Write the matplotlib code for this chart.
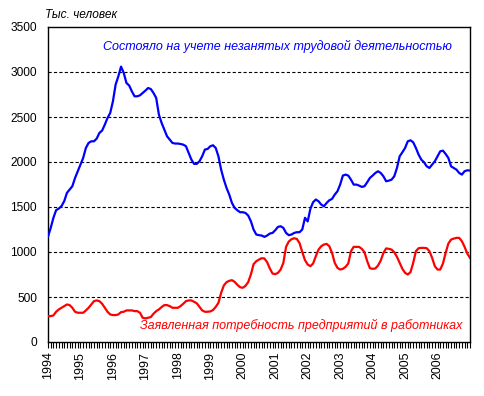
import matplotlib
matplotlib.use("Agg")
import matplotlib.pyplot as plt
import numpy as np

plt.rcParams['font.family'] = ['Liberation Sans', 'DejaVu Sans']
plt.rcParams['lines.scale_dashes'] = False

years = ["1994", "1995", "1996", "1997", "1998", "1999", "2000",
         "2001", "2002", "2003", "2004", "2005", "2006"]

# Monthly values from Jan 1994 (thousand people)
unemployed = [
    1170, 1268, 1380, 1465, 1483, 1510, 1565, 1657, 1694, 1731, 1823, 1897,
    1971, 2045, 2156, 2212, 2230, 2230, 2260, 2323, 2349, 2415, 2489, 2545,
    2674, 2860, 2952, 3060, 2989, 2878, 2850, 2785, 2730, 2730, 2741, 2767,
    2793, 2822, 2811, 2767, 2711, 2526, 2434, 2360, 2286, 2249, 2212, 2205,
    2205, 2200, 2193, 2175, 2100, 2027, 1979, 1979, 2008, 2064, 2138, 2145,
    2175, 2186, 2156, 2063, 1915, 1804, 1712, 1638, 1545, 1490, 1464, 1442,
    1442, 1434, 1405, 1342, 1249, 1194, 1187, 1183, 1168, 1183, 1205, 1212,
    1242, 1279, 1286, 1268, 1212, 1187, 1194, 1212, 1220, 1220, 1250, 1380,
    1340, 1480, 1553, 1583, 1564, 1527, 1508, 1545, 1575, 1590, 1638, 1675,
    1749, 1849, 1860, 1849, 1804, 1749, 1749, 1738, 1723, 1731, 1775, 1823,
    1849, 1878, 1897, 1878, 1841, 1786, 1793, 1804, 1841, 1934, 2063, 2108,
    2156, 2230, 2241, 2219, 2156, 2082, 2026, 1997, 1952, 1934, 1971, 2008,
    2063, 2119, 2126, 2089, 2045, 1952, 1934, 1915, 1878, 1860, 1897, 1908,
    1905,
]

vacancies = [
    288, 288, 295, 336, 362, 380, 399, 417, 410, 380, 336, 325,
    325, 325, 351, 380, 417, 454, 462, 454, 425, 380, 336, 306,
    299, 299, 306, 332, 336, 351, 351, 351, 343, 343, 325, 269,
    262, 269, 277, 314, 343, 362, 388, 410, 410, 399, 380, 380,
    380, 399, 425, 454, 462, 462, 447, 430, 390, 351, 336, 336,
    340, 355, 390, 435, 546, 628, 665, 680, 687, 668, 635, 609,
    602, 624, 665, 750, 865, 898, 916, 931, 928, 887, 817, 761,
    754, 768, 805, 879, 1057, 1116, 1142, 1153, 1145, 1098, 998, 909,
    861, 842, 872, 953, 1027, 1064, 1083, 1090, 1064, 990, 879, 824,
    805, 813, 835, 872, 1009, 1057, 1057, 1057, 1035, 998, 898, 820,
    813, 817, 850, 905, 990, 1040, 1035, 1027, 998, 946, 879, 813,
    768, 750, 776, 879, 1009, 1042, 1046, 1046, 1042, 1009, 935, 842,
    805, 805, 872, 990, 1094, 1138, 1149, 1157, 1157, 1120, 1057, 983,
    935,
]

label_blue = "Состояло на учете незанятых трудовой деятельностью"
label_red = "Заявленная потребность предприятий в работниках"
y_title = "Тыс. человек"

W, H = 485, 396
fig = plt.figure(figsize=(W / 100, H / 100), dpi=100)
ax = fig.add_axes([48 / W, 1 - 342 / H, (470 - 48) / W, (342 - 27) / H])

x = np.arange(len(unemployed))
ax.plot(x, unemployed, color=(0, 0, 1), lw=1.6, solid_joinstyle='round', zorder=3)
ax.plot(x, vacancies, color=(1, 0, 0), lw=1.6, solid_joinstyle='round', zorder=3)

ax.set_xlim(0, len(unemployed) - 1)
ax.set_ylim(0, 3500)
ax.set_yticks(np.arange(0, 3501, 500))
for v in range(500, 3500, 500):
    ax.axhline(v, color='black', lw=0.8, linestyle=(0, (2.3, 1.6)), zorder=1)

ax.set_xticks(np.arange(0, len(unemployed), 12)[:len(years)])
ax.set_xticklabels(years, rotation=90, fontsize=8.9)
ax.set_xticks(np.arange(0, len(unemployed)), minor=True)
ax.tick_params(axis='x', which='both', direction='out', length=4, width=0.8, pad=3)
ax.tick_params(axis='y', length=0, pad=8, labelsize=8.6)

for s in ax.spines.values():
    s.set_linewidth(1.0)
    s.set_color('black')

ax.annotate(label_blue, xy=(0, 3281), xycoords='data', color=(0, 0, 1),
            style='italic', fontsize=9.0, va='center', ha='left',
            xytext=(103 - 48, 0), textcoords='offset pixels')
ax.annotate(label_red, xy=(0, 189), xycoords='data', color=(1, 0, 0),
            style='italic', fontsize=9.0, va='center', ha='left',
            xytext=(140 - 48, 0), textcoords='offset pixels')
fig.text(45 / W, 1 - 15 / H, y_title, style='italic', fontsize=8.6,
         va='center', ha='left')

fig.savefig("out.png", dpi=100)
